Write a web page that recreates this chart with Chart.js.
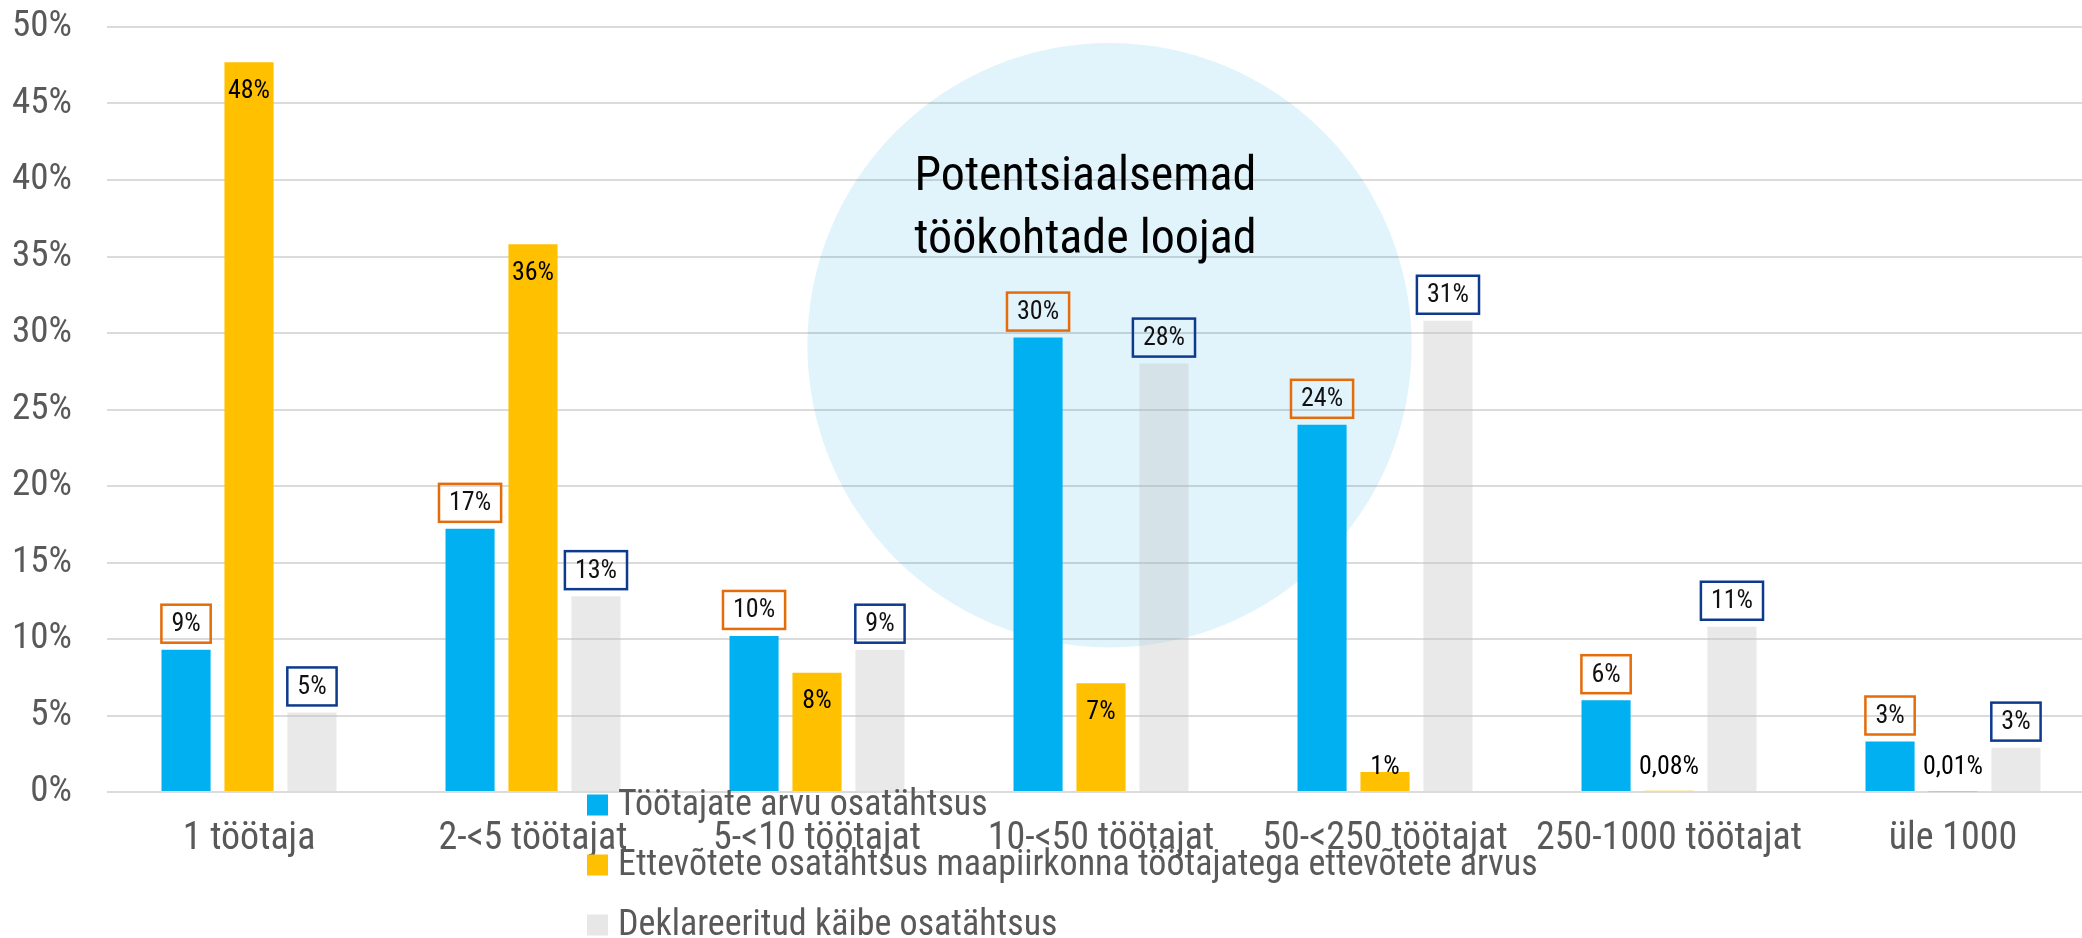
<!DOCTYPE html>
<html>
<head>
<meta charset="utf-8">
<script src="https://cdn.jsdelivr.net/npm/chart.js@4.4.1/dist/chart.umd.min.js"></script>
<style>
    html, body { margin: 0; padding: 0; overflow: hidden; background: #fff; }
    canvas { display: block; }
</style>
</head>
<body>
<canvas id="barCanvas" width="2095" height="938"></canvas>
<script>
const categories = ['1 töötaja', '2-<5 töötajat', '5-<10 töötajat', '10-<50 töötajat', '50-<250 töötajat', '250-1000 töötajat', 'üle 1000'];
const seriesNames = [
    'Töötajate arvu osatähtsus',
    'Ettevõtete osatähtsus maapiirkonna töötajatega ettevõtete arvus',
    'Deklareeritud käibe osatähtsus'
];
const employeeShare = [9.3, 17.2, 10.2, 29.7, 24.0, 6.0, 3.3];
const companyShare = [47.7, 35.8, 7.8, 7.1, 1.3, 0.08, 0.01];
const turnoverShare = [5.2, 12.8, 9.3, 28.0, 30.8, 10.8, 2.9];
const yMax = 50;
const yStep = 5;
const noteLines = ['Potentsiaalsemad', 'töökohtade loojad'];

const FONT = "'Roboto Condensed', 'Liberation Sans Narrow', 'DejaVu Sans Condensed', Roboto, sans-serif";
const seriesColors = ['#00B0F0', '#FFC000', 'rgba(191, 191, 191, 0.35)'];
const boxColors = ['#E46C0A', null, '#0E3A8E'];

function fmt(v) {
    if (v < 1) return v.toFixed(2).replace('.', ',') + '%';
    return Math.round(v) + '%';
}

// light blue highlight circle, placed in data units
const circlePlugin = {
    id: 'circle',
    beforeDraw(chart) {
        const { ctx, scales: { x, y } } = chart;
        const cx = x.getPixelForValue(3.03);
        const cy = y.getPixelForValue(29.2);
        const r = y.getPixelForValue(0) - y.getPixelForValue(19.75);
        ctx.save();
        ctx.fillStyle = '#E1F4FC';
        ctx.beginPath();
        ctx.arc(cx, cy, r, 0, Math.PI * 2);
        ctx.fill();
        ctx.restore();
    },
    afterDraw(chart) {
        const { ctx, scales: { x, y } } = chart;
        const cx = x.getPixelForValue(2.945);
        ctx.save();
        ctx.fillStyle = '#000';
        ctx.font = '48px ' + FONT;
        ctx.textAlign = 'center';
        ctx.textBaseline = 'alphabetic';
        ctx.fillText(noteLines[0], cx, y.getPixelForValue(39.35));
        ctx.fillText(noteLines[1], cx, y.getPixelForValue(35.2));
        ctx.restore();
    }
};

const labelPlugin = {
    id: 'valueLabels',
    afterDatasetsDraw(chart) {
        const { ctx } = chart;
        ctx.save();
        ctx.font = '26px ' + FONT;
        ctx.textAlign = 'center';
        ctx.textBaseline = 'middle';
        chart.data.datasets.forEach((ds, i) => {
            const meta = chart.getDatasetMeta(i);
            meta.data.forEach((bar, j) => {
                const text = fmt(ds.data[j]);
                if (boxColors[i]) {
                    const w = ctx.measureText(text).width + 20;
                    const h = 38;
                    const bottom = bar.y - 7;
                    ctx.strokeStyle = boxColors[i];
                    ctx.lineWidth = 2.5;
                    ctx.strokeRect(bar.x - w / 2, bottom - h, w, h);
                    ctx.fillStyle = '#111';
                    ctx.fillText(text, bar.x, bottom - h / 2 + 1);
                } else {
                    const cy = Math.min(bar.y + 29, bar.base - 24);
                    ctx.fillStyle = '#000';
                    ctx.fillText(text, bar.x, cy);
                }
            });
        });
        ctx.restore();
    }
};

// legend drawn under the axis, overlapping the category labels like the original
const legendPlugin = {
    id: 'stackedLegend',
    afterDraw(chart) {
        const { ctx } = chart;
        ctx.save();
        ctx.font = '36px ' + FONT;
        ctx.textBaseline = 'middle';
        ctx.textAlign = 'left';
        chart.data.datasets.forEach((ds, i) => {
            const yy = 805 + i * 60;
            ctx.fillStyle = i === 2 ? '#E7E7E7' : ds.backgroundColor;
            ctx.fillRect(587, yy - 10.5, 21, 21);
            ctx.fillStyle = '#595959';
            ctx.fillText(ds.label, 618, yy + 1);
        });
        ctx.restore();
    }
};

const data = {
    labels: categories,
    datasets: [
        { label: seriesNames[0], data: employeeShare, backgroundColor: seriesColors[0] },
        { label: seriesNames[1], data: companyShare, backgroundColor: seriesColors[1] },
        { label: seriesNames[2], data: turnoverShare, backgroundColor: seriesColors[2] }
    ]
};

const options = {
    responsive: false,
    animation: false,
    layout: { padding: { top: 0, left: 0, right: 0, bottom: 0 } },
    datasets: {
        bar: { categoryPercentage: 0.665, barPercentage: 0.78 }
    },
    plugins: {
        legend: { display: false },
        tooltip: { enabled: false }
    },
    scales: {
        x: {
            grid: { display: false, drawTicks: false },
            border: { display: false },
            ticks: {
                color: '#595959',
                font: { family: FONT, size: 38 },
                padding: 25,
                maxRotation: 0,
                autoSkip: false
            },
            afterFit(scale) { scale.height = 146; }
        },
        y: {
            min: 0,
            max: yMax,
            grid: { color: 'rgba(0, 0, 0, 0.14)', lineWidth: 2, drawTicks: false },
            border: { display: false },
            ticks: {
                stepSize: yStep,
                color: '#595959',
                font: { family: FONT, size: 37 },
                padding: 35,
                callback: v => v + '%'
            },
            afterFit(scale) {
                scale.width = 107;
                // tick padding also pads vertically; keep the top where the original has it
                scale.paddingTop = 27;
                scale.paddingBottom = 0;
            }
        }
    }
};

new Chart(document.getElementById('barCanvas'), {
    type: 'bar',
    data,
    options,
    plugins: [circlePlugin, labelPlugin, legendPlugin]
});
</script>
</body>
</html>
